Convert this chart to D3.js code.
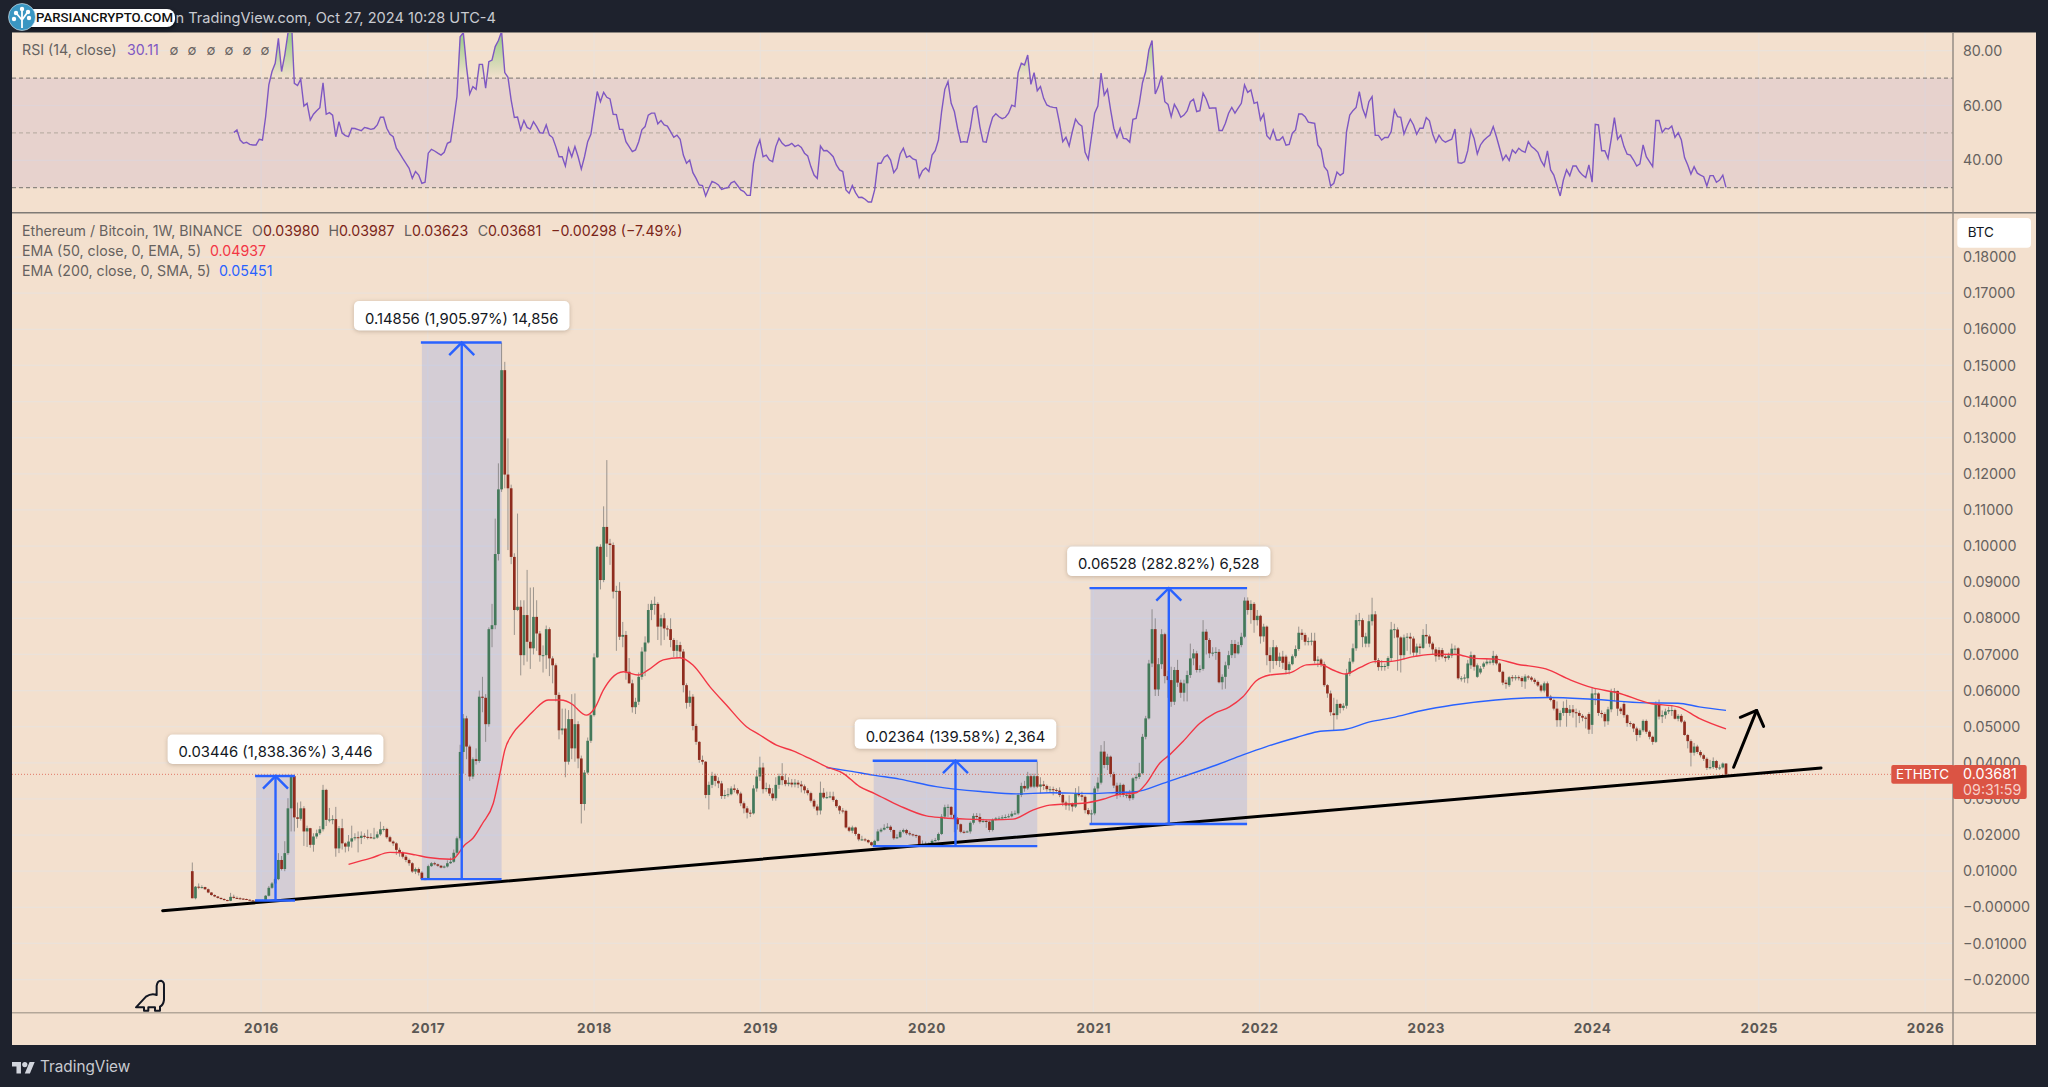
<!DOCTYPE html>
<html>
<head>
<meta charset="utf-8">
<script src="https://cdnjs.cloudflare.com/ajax/libs/d3/7.8.5/d3.min.js"></script>
<style>
  html, body { margin: 0; padding: 0; background: #1e222d; overflow: hidden; }
  svg { display: block; }
  text { font-family: Inter, "Noto Sans", sans-serif; }
</style>
</head>
<body>
<svg id="chart" width="2048" height="1087"></svg>
<script>
//1. Data, weekly candles: [open, close, high, low] in 0.001 BTC
const candles = [
  // 2015
  [10,2.5,12.4,2.5],[2.5,5.7,5.9,2.2],[5.7,5.6,6.6,5],[5.6,5.6,6.1,5.2],[5.6,5,5.7,4.8],[5,4.1,5.2,3.9],[4.1,3.4,4.2,3.2],[3.4,3,3.6,2.8],[3,2.6,3.1,2.4],[2.6,2.3,2.7,2.1],
  [2.3,2,2.5,1.9],[2,1.8,2.1,1.7],[1.8,2.9,4,1.7],[2.9,2.6,3.5,2.4],[2.6,2.5,3,2.3],[2.5,2.4,2.8,2.2],[2.4,2.3,2.5,2.1],[2.3,2.1,2.4,2],[2.1,1.9,2.2,1.8],[1.9,1.8,2,1.7],
  [1.8,1.7,1.9,1.6],[1.7,1.8,1.9,1.7],
  // 2016
  [1.8,1.9,2.1,1.8],[1.9,3.2,3.4,1.8],[3.2,5.4,5.9,3],[5.4,6.6,7,5.1],[6.6,7.8,8.3,6.3],[7.8,13.1,15,7.5],[13.1,10.6,14.2,10.2],[10.6,15,18.3,10],
  [15,27.4,30.2,14.5],[27.4,36.3,36.3,21],[36.3,24.9,36.3,21],[24.9,24.5,29,22],[24.5,27.4,29.3,24],[27.4,21,28,17],[21,21.9,22.6,16.7],[21.9,17.3,22,16.5],[17.3,19.6,20.5,15.4],[19.6,20.5,21.5,19],
  [20.5,21.6,22.5,20],[21.6,32.5,33.9,21],[32.5,24.2,32.8,22.5],[24.2,24.3,27.5,23.5],[24.3,24.4,25.5,23],[24.4,16.3,27.8,14],[16.3,21.9,22.5,15],[21.9,17.7,24.5,16],[17.7,16.8,18,15.2],[16.8,18.2,20,15.5],
  [18.2,19.1,22.6,16.5],[19.1,19.4,20.5,18.5],[19.4,19.2,21,15.2],[19.2,19.8,21,17.5],[19.8,19.5,20.5,19],[19.5,19.4,21.5,18.8],[19.4,19.3,20.5,19],[19.3,19.3,22,18.8],[19.3,20.2,21,19],[20.2,21.6,23.7,19.8],
  [21.6,21.7,22.5,21],[21.7,19.4,22,19],[19.4,18.2,19.8,18],[18.2,17.7,18.5,17],[17.7,15.9,18,14.5],[15.9,15.1,16.5,14],[15.1,14,15.5,13.5],[14,13.1,14.5,12.5],[13.1,12.2,13.5,11.5],[12.2,9.9,12.5,9.5],
  [9.9,10.6,11,9.2],[10.6,9.6,11,8.8],[9.6,7.8,10,7.8],[7.8,7.8,8.2,7.7],
  // 2017
  [7.8,11.4,11.8,7.7],[11.4,12.2,12.5,11.2],[12.2,11.9,12.6,11.6],[11.9,11.5,12.1,11.2],[11.5,11,11.7,10.8],[11,11.3,11.6,10.8],
  [11.3,12.2,13,11],[12.2,12.6,13.8,12],[12.6,15.1,16,12.3],[15.1,19.1,19.6,14.5],[19.1,43,45,18.5],[43,52.3,53.5,37],[52.3,44.5,53,41],[44.5,36.2,45,35],[36.2,41,41.5,35.5],[41,40.5,44,39.5],
  [40.5,58.3,60,40],[58.3,58,63.8,54],[58,50.7,59,45.8],[50.7,77,77.5,50],[77,78.1,84,72],[78.1,97.8,107.6,77],[97.8,115.7,122.9,96],[115.7,148.7,156.3,115],[148.7,119.8,151,116],[119.8,116,129.8,98.9],
  [116,97,117,95],[97,82.3,98,75.4],[82.3,83.2,109,82],[83.2,69.8,85,64.2],[69.8,80.9,85,67],[80.9,73.5,93.4,68],[73.5,71.7,88.5,66],[71.7,80.4,88.6,70],[80.4,75.8,85,71],[75.8,69.8,76.5,68],
  [69.8,69.8,72.5,65],[69.8,77,78,66],[77,68.9,77.5,64],[68.9,67,69.5,62],[67,58.8,67.5,57],[58.8,49,59.5,46.5],[49,49.5,55,47.8],[49.5,40.3,55,36],[40.3,52.1,54.6,39.5],[52.1,44,59,41],
  [44,50.7,59.2,40.3],[50.7,41.2,51.5,38.5],[41.2,28.6,42,23.2],[28.6,37.3,38,26.8],[37.3,46.1,47,36.8],[46.1,53.2,53.5,45.5],
  // 2018
  [53.2,69.2,70.3,52.8],[69.2,99.8,100,69],[99.8,90.6,100.5,88],[90.6,105.3,111,90],
  [105.3,100.7,123.8,97],[100.7,100.3,102,94.8],[100.3,87.4,101,85.5],[87.4,87.6,89,71],[87.6,74.9,90,74],[74.9,75.4,79,72],[75.4,65.2,76.5,63],[65.2,62,69,62],[62,55.4,63,53.9],[55.4,56.9,58,53.5],
  [56.9,63.8,65,56],[63.8,70.8,72,63],[70.8,73.3,75,64],[73.3,82.3,84,73],[82.3,84,85,79.5],[84,84,86,81],[84,77.7,84.5,74],[77.7,80,81,72.5],[80,77.2,81.5,74],[77.2,77,78,75],
  [77,74,80,72],[74,71,74.5,69.3],[71,72.6,74,69],[72.6,70.8,73.5,69],[70.8,61.5,71.5,59.5],[61.5,56.6,62,55],[56.6,58.3,60,55.5],[58.3,50.2,59,49],[50.2,45.8,50.8,45],[45.8,40.8,46,40],
  [40.8,40.3,42,39.5],[40.3,31.1,40.5,30.2],[31.1,33.9,34.8,27.1],[33.9,36.4,37.5,33],[36.4,35,37,33.5],[35,34.3,36,33],[34.3,30.8,35,30],[30.8,31.1,32.5,30],[31.1,31.3,33,30.5],[31.3,32.9,33.5,31],
  // 2019
  [32.9,32.5,34,31.8],[32.5,31.5,33,31],[31.5,28.8,32,28],[28.8,27.4,29.3,26],[27.4,26.2,28,24.6],[26.2,26,27,25],[26,32.9,33.8,25.7],[32.9,36.2,38,32],[36.2,38.7,41.7,35],[38.7,32.7,40,31.5],
  [32.7,33,34.5,32],[33,31.5,34,30.8],[31.5,30.2,33,29.5],[30.2,33.9,36,29.5],[33.9,36.3,37,32.8],[36.3,35.2,39.9,33.8],[35.2,34.1,37,33.5],[34.1,34.5,36,33.5],[34.5,34,35.5,33.2],[34,34.5,35.5,33.2],
  [34.5,34,35.2,33],[34,33.5,35,31.8],[33.5,32.4,34,31.5],[32.4,31.6,33,31],[31.6,29.5,32,29],[29.5,27.9,30,27.3],[27.9,26.8,28.5,25.5],[26.8,31.7,34.8,25.7],[31.7,30.4,33,30],[30.4,30.5,32,30],
  [30.5,30.7,32,30.2],[30.7,29.7,32,29.2],[29.7,28,30,27.5],[28,26.8,28.3,25.8],[26.8,26.7,27.5,26],[26.7,22.1,27,21.8],[22.1,21.2,22.4,20.8],[21.2,22.1,22.6,20.5],[22.1,20.3,22.3,19.8],[20.3,18.8,20.5,18.3],
  [18.8,18.8,19.8,18.4],[18.8,18.6,19.2,18.2],[18.6,18,18.8,17.7],[18,17.2,18.2,16.9],[17.2,18.4,18.7,16.8],[18.4,21,21.6,18.2],[21,21.5,22,20.7],[21.5,22,23,21.3],[22,22.3,23.3,21.8],[22.3,21.4,22.7,20.9],
  [21.4,19.1,21.5,18.7],[19.1,19.4,20.2,18.9],[19.4,20.9,21.4,19.2],[20.9,21.4,21.8,20.5],[21.4,20.5,21.7,20],[20.5,20.2,21,19.8],[20.2,20,20.4,19.6],[20,19.8,20.2,19.2],[19.8,17.3,20,17],[17.3,17.3,18.5,17],
  [17.3,17.5,18.2,17],
  // 2020
  [17.5,17.6,18,17.2],[17.6,18.4,18.8,17.4],[18.4,18.6,19.2,18.2],[18.6,20.3,20.7,18.3],[20.3,25.1,25.8,20],[25.1,27.7,28.4,24.5],[27.7,27.8,28.5,25],[27.8,25.6,28,24.6],[25.6,24.6,26,20.8],
  [24.6,23,25,21.5],[23,20.9,23.2,20.5],[20.9,20.8,21.3,20.4],[20.8,21,21.3,20.6],[21,23.4,23.8,20.4],[23.4,25.3,26,22.9],[25.3,25,26.1,24.5],[25,23.7,26,23.2],[23.7,23.9,24.5,23.4],[23.9,23.7,24.2,22],
  [23.7,21.4,24,20.8],[21.4,24.2,24.6,21],[24.2,24.6,25,24],[24.6,24.6,25.2,24.2],[24.6,24.9,25.5,24.2],[24.9,25,25.7,24.6],[25,25.2,25.9,24.8],[25.2,25.9,26.6,24.9],[25.9,26,26.8,25.6],[26,31.1,31.5,25.6],
  [31.1,33.6,34.5,30.5],[33.6,32.9,35,32],[32.9,36.3,37.5,32.5],[36.3,33.4,37,33],[33.4,36.3,37,33],[36.3,33.4,40.3,33],[33.4,34,36,31.5],[34,33.6,35,32.5],[33.6,32.7,34,32],[32.7,32.7,33.5,31.8],
  [32.7,32.5,33.4,31],[32.5,32.3,33,31.5],[32.3,31.1,33.2,30.5],[31.1,29,31.5,28],[29,28.2,29.5,27],[28.2,28.6,31,26.8],[28.6,27.9,29,26.5],[27.9,31.5,33,27.5],[31.5,31,33.5,30.5],[31,30.6,32,29.5],
  [30.6,26.9,31,26],[26.9,25.8,27.5,25.5],[25.8,26,27,23.1],
  // 2021
  [26,32.9,33.5,25.5],[32.9,34.5,36,32],[34.5,43.1,44.9,34],[43.1,39.4,46,38.5],[39.4,41.7,42.5,38],[41.7,36.9,42,36],[36.9,33.7,37.5,33],
  [33.7,31.1,34.5,30],[31.1,33.9,34.5,30.5],[33.9,31.1,34.2,30.5],[31.1,31.1,32,30.2],[31.1,30.2,32.5,29.5],[30.2,35.7,36,29.7],[35.7,36.1,37,35],[36.1,37.1,40,35.5],[37.1,47.2,48,36.8],[47.2,52.3,53,46.5],
  [52.3,67.5,68.5,52],[67.5,77,82.5,66.5],[77,60.3,80,58.5],[60.3,67.3,69,58.5],[67.3,75.6,77,66],[75.6,64,76,62],[64,62.9,65.5,58],[62.9,56.9,66.6,55.5],[56.9,65.7,66.5,56],[65.7,62.2,68.5,61],
  [62.2,59.4,63,58],[59.4,62,63,57],[62,64.3,65.5,57],[64.3,68.9,73,63.5],[68.9,70.3,71.5,67],[70.3,65.7,71,65],[65.7,66,67,65],[66,76.3,79.5,65.5],[76.3,74,77,70],[74,70.3,74.5,69],
  [70.3,70.5,72,69.5],[70.5,70.7,72,68.5],[70.7,62.3,71.5,62],[62.3,63.8,64.5,60.3],[63.8,67,68,60.5],[67,69.8,71,66],[69.8,72.9,74,69],[72.9,70.3,74,69],[70.3,72.6,73.5,70],[72.6,74.9,76,72],
  [74.9,84.9,85.8,74.5],[84.9,82.3,85.8,81],[82.3,84,85,78.5],[84,79.5,84.5,76],[79.5,80.7,82.3,78],
  // 2022
  [80.7,75,81,73],[75,77.7,78.5,73.5],[77.7,69.8,78,67],[69.8,68.2,72,65],[68.2,72,74,66],
  [72,68.2,72.5,67],[68.2,69.4,70.5,66.5],[69.4,67.7,71,66],[69.4,65.7,69.9,64.5],[65.7,67.3,68,64.5],[67.3,69.5,70,67],[69.5,71.5,72.5,69],[71.5,76,77.7,71],[76,75.4,77,74],[75.4,73.5,76,72.5],
  [73.5,73.7,74.7,72.5],[73.7,73.8,76,72.5],[73.8,68.2,76,67.5],[68.2,68.6,69.5,66.5],[68.6,67.3,69,66.5],[67.3,61.5,68,61],[61.5,59.2,61.8,58],[59.2,54,60,53],[53.7,53.2,58,49],[53.2,56.3,57.5,52],
  [56.3,55.2,56.5,53.7],[55.2,55.8,56.5,54.5],[55.8,64.7,66,55],[64.7,68,69,64],[68,71.7,73,67.5],[71.7,79.5,81,71],[79.5,79.5,81.5,78],[79.5,74.8,80,72],[73,75,76,72],[73,79.2,81,72],
  [79.2,81.1,85.7,78],[81.1,68.4,82,67.5],[68.4,66.5,69,65.5],[66.5,66.8,68.4,65.5],[66.8,66.8,67.5,65.5],
  // 2023
  [66.8,69,69.5,66],[69,76.9,79,68],[76.9,77,78.5,74.5],[76.9,74.7,77.5,65.5],[74.7,69.8,75,65],
  [69.8,74.7,75.5,68.5],[74.7,74.9,75.9,71],[74.9,74.4,76,70],[74.4,70.5,75,69.5],[70.5,72.2,73,69.5],[72.2,71.8,73,70],[71.8,75.4,77,71.5],[75.4,75,78.4,73],[75,73,75.5,72],[73,71.4,73.5,70],
  [71.4,69.5,72,68],[71.2,69.4,72,68.5],[71.2,69.4,71.8,68.9],[69.4,69,69.9,68],[69,69.7,70.5,68.5],[69.7,71.6,73,69],[71.6,71.6,72.5,70],[71.7,63.4,72,63],[63.4,63.4,64,62.5],[63.4,63.6,64.5,62.2],
  [63.4,67.5,68.5,62],[67,69.8,70.8,66],[69.8,66.6,70,65.5],[63.8,67,67.5,63.5],[65,66.1,66.8,64.5],[66.6,67.5,68,66],[67.5,68,68.8,67],[68,68,68.5,67.2],[67.7,69.6,71,67],[69.6,67.5,70,67],
  [67.5,65.2,67.8,65],[65.2,62.2,65.5,61.5],[62.2,61.8,63,60.5],[61.5,63.7,64,61],[63.7,63.4,64.3,62.5],[63.4,63.7,64.3,62.8],[63.7,63.5,64.2,62.8],[63.5,62.6,64,61],[62.5,63.9,64.5,60.5],[63.9,63.6,64.3,63],
  [63.6,63,64,62.5],[63,62.4,63.5,61.8],[62.4,61.4,62.8,61],[61.4,60,61.8,59.5],[60,62,62.5,59.5],[62,58.3,62.5,58],[58.3,57.4,58.8,57],[57.4,55,57.8,54.5],[55,51.8,57,50],[51.8,53.8,54.5,50],
  [53.8,55.2,57,53],[55.2,53.8,57.5,50],[53.8,54.8,56,53],[54.8,54,56,52.5],[54,53.8,55,49.8],[53.8,53,54.5,51],[53,52.5,53.5,51.5],[52.5,52.2,53,49.5],[53.5,49.2,54,48],
  // 2024
  [50.5,59.2,61,48],[59.2,59.2,60.5,56],[59.2,53.8,59.5,53],[53.8,53.5,54.5,52.5],[53.5,51.5,54,50],[51.5,54.8,55.5,50.5],[54.8,59.8,60.5,54],[59.8,59.9,60.7,57],[59.9,55,60,53],[55,54.3,55.5,53.5],
  [56.3,53.2,56.8,52.5],[53.2,51,53.5,50],[51,50.8,51.5,50],[50.8,49.5,51,48.5],[49.5,47.7,50,46],[47.7,49,49.5,47],[49,51.6,52,48.5],[51.6,48.6,52,48],[48.6,47.2,49,46.5],[47.2,45.8,47.5,45],
  [45.8,56,57,45.5],[56,52.8,57.5,52],[52.8,53.2,54.5,51],[53.2,54.2,55,52.2],[54.2,54.6,55.5,53.5],[54.6,54.6,56,53],[54.6,52.2,55,52],[52.2,53,53.5,51.5],[53,51.4,53.5,51],[51.4,47.7,51.8,47.5],
  [47.7,46,48,44],[46,42.8,46.5,39],[42.8,44.5,45.5,42],[44.5,43,45,42.5],[43,42.1,43.5,41.5],[42.1,41.1,42.5,40.5],[41.1,38.6,41.5,38],[38.6,38.8,40.8,38.2],[38.8,40.5,41.5,38.3],[40.5,38.6,40.8,38],
  [38.6,38.7,39.5,38],[38.7,39.8,40.1,38.4],[39.8,36.81,39.87,36.23],
];

// RSI (14), one value a week, last value belongs to the last candle
const rsi = [
  50.1,51.1,47.4,46.2,46.6,45.8,45.6,45.6,47.7,47.4,55.9,67.5,72.4,75.4,84.5,72.4,78.4,86.4,93.6,68.1,67.3,
  69.6,59.8,60.8,54.7,56.8,58.1,59.2,68.3,56.8,57.4,56.5,48.6,54.1,49.9,49,48.6,51.7,51.6,51.2,50.8,52,
  51.7,51.3,51.6,52.9,55.7,55.7,51.7,49.5,48.6,44.4,42.6,40.7,38.9,37.1,33.4,35.9,34.6,31.6,32,42.6,
  44,43.4,42.6,41.9,42.9,46.2,46.8,54.7,63.2,85.1,86.6,74.2,64.2,66.9,65.9,75,75,66.3,76,76.6,
  81.5,83.7,87,72,70.3,62,55.6,55.8,51.1,54.5,52,51.4,54.1,52.3,50.1,49.9,52.9,49.2,48.3,45,
  41.3,41.3,37.9,44.4,41.3,45,41.3,36.8,41.3,46.8,49.5,57.2,65.1,61.4,64.8,63,62.4,56.8,56.7,51.3,
  51.3,46.8,45,43.2,43.8,46.8,51.1,52.3,56.5,57.2,57.2,53.3,54.5,52.9,52.5,50.5,48.4,49.2,47.7,41.9,
  38.9,40.1,35.5,33.4,31,30.8,27,29.8,32.3,31.8,31,29.4,29.8,30,31.8,32.3,30.8,29.2,28.6,27.2,
  27.2,38.9,44.4,47.4,41.3,41.9,40.1,39.5,45,48,46.2,45.2,45.5,46.2,45,45.6,44.7,
  42.6,41.6,37.7,34.6,33.4,45.2,43.5,43.6,42.6,41.3,38.3,36.5,35.9,29.2,28,30.8,28.2,26.4,26.5,25.8,
  24.8,24.8,29.2,38.9,38.9,41.1,41.9,40.1,35.5,37.1,42.3,44.4,41.1,41.6,40.5,40.1,33.7,36.2,37.2,35.9,
  41.9,43.5,47.4,57.8,65.9,68.7,60.8,57.8,51.7,46.6,46.8,46.6,51.7,59,59.8,52.3,46.8,46.6,51.7,55.7,
  57,55.9,55.2,55.7,57.2,60.1,59.6,72,75.4,74.8,78.4,67.7,72,65.4,66.9,62.6,60.2,59.6,59.3,59.2,
  53.5,46.8,48.4,45.2,50.5,55,53.3,52.5,42.9,40.4,48.6,57.2,59.8,71.8,63.8,65.9,58.4,51.7,48.4,51.7,
  48,47.8,46.6,55,55.3,60.8,68.3,72.4,80.3,83.7,64.2,66.9,70.9,61.4,60.4,55.9,60.4,58.4,55.7,56.5,
  58,61.4,62.3,57.8,58.1,64.5,62.3,59,59.1,59.1,50.9,50.9,53.5,57.2,59.3,57.2,59,60.8,67.5,64.8,
  65.7,60.8,61.2,54.7,56.9,49,47.7,51.1,47.4,47.4,48.6,45.5,45.8,49.9,51.1,56.9,56.9,55.9,53.9,53.7,
  53.5,45.6,44,37.7,36.2,30.6,31.6,35.7,34.5,35.3,50.5,56.5,58.1,59.3,65.1,59,55.9,61.4,63.2,49.1,
  49.1,47.4,48.3,48.3,50.5,58.4,55.9,55.7,
  49.6,52.5,55,52.9,49.5,51.7,51.7,55.6,54.4,49.6,46.6,49.2,47.4,46.6,47.2,47.7,51.4,39.1,38.9,39.5,
  43.5,51.1,48,42.3,45.6,47.2,48.3,49.2,52.3,48.6,44.4,40.1,41.9,39.9,43.8,42.6,44.4,43.4,42.9,46.8,
  45,44.1,42.9,39.9,37.9,43.4,36.5,34.6,30.8,27,32.8,36.5,34.4,37.9,37.9,35.9,34.6,33.7,38.3,32,
  53.1,52.9,43.5,43.5,40.7,47.7,55.6,47.7,49.2,45,42.2,41.9,40.1,37.9,38.7,45.6,41.3,39.5,37.7,54.5,
  54.5,50.2,51.7,51.4,52.5,48.4,50.1,47.4,41,38.3,35,37.7,35.3,34.6,34,30.6,34.4,34.4,32,32.8,
  34.6,30.11,
];

// Moving averages: [week, value in 0.001 BTC]
const ema50 = [[49,11.9],[56,13.6],[62,15.2],[66,15.1],[70,14.5],[74,13.8],[81,13.3],[82,13.5],[85.5,17.3],[88,19.1],[91,23.2],[94.4,28.8],[96.5,37.1],[98,43.5],[100.6,48.2],[103.8,51.4],[106.9,54.3],[111.6,57.4],[115.3,57.4],[119.5,56],[120.5,55.1],[123.6,53.2],[126.2,55.1],[128.9,60.1],[131.5,63.4],[135.2,65.2],[139.8,64.3],[143,65.7],[147.7,68.5],[152.9,69.1],[157,67.1],[162.3,61.1],[167.5,56],[173.8,50],[178,47.7],[183.2,44.9],[188.4,43.3],[193.6,41.2],[198.9,38.9],[204.1,37.1],[209.3,33.4],[214,31.5],[221.8,28.1],[230.2,25.3],[235.4,24.8],[242.8,24.4],[251,24.2],[257.4,24.4],[263.6,26.9],[268.9,28.3],[274.1,28.6],[279.3,28.8],[285.6,29.9],[289.8,31.1],[296,31.7],[299.2,34.3],[303.4,39.9],[306.5,42.2],[310.7,45.9],[315.9,50.9],[320.6,53.7],[325.3,55.5],[329.5,58.3],[333.7,62.7],[337.9,64.3],[344.2,64.9],[349.4,67.1],[353.5,67.3],[357.7,65.7],[361.6,64.6],[366.3,66.4],[370.8,68],[375.2,68],[383.1,69.4],[389.8,70.1],[396.5,70],[402.1,68.9],[408.8,68.7],[415.5,67.3],[424.5,66],[432.3,62.9],[439,60.8],[446.9,59.4],[457,56.5],[465.9,55.5],[472.6,52.3],[481,49.37]];
const ema200 = [[198.9,38.7],[206.2,37.7],[213.5,36.6],[221.8,35.5],[233.3,33.4],[247.9,32],[258.4,31.4],[268.9,31.7],[282.4,31.5],[289.8,31.8],[296,32],[304.4,34.3],[310.7,36.2],[321.2,39.4],[329.5,42.2],[336.9,44.5],[346.3,47],[352.9,48.6],[361.8,49.3],[369.6,51.4],[376.4,52.5],[385.3,54.4],[395.4,56],[408.8,57.4],[425.6,58.1],[439,57.6],[455.8,56.6],[465.9,56.5],[472.6,55.5],[481,54.51]];

// Price ranges drawn on the chart
const ranges = [
  { w0: 20, w1: 32.2, from: 0.00187, to: 0.03633, label: "0.03446 (1,838.36%) 3,446" },
  { w0: 72, w1: 97, from: 0.00779, to: 0.15635, label: "0.14856 (1,905.97%) 14,856" },
  { w0: 213.7, w1: 265, from: 0.01694, to: 0.04058, label: "0.02364 (139.58%) 2,364" },
  { w0: 281.7, w1: 330.8, from: 0.02308, to: 0.08836, label: "0.06528 (282.82%) 6,528" },
];
const trendLine = [[-9.3, -0.00094], [510.8, 0.03857]];
const upArrow = { shaft: [[483.4, 0.03876], [490.6, 0.0545]], head: [[485.5, 0.0526], [490.6, 0.0545], [492.8, 0.0501]] };
const lastPrice = 0.03681;

//2. Layout and scales
const pane = { left: 12, right: 1953, edge: 2036, top: 32, rsiBottom: 212.7, bottom: 1012.7, foot: 1045 };
const t0 = new Date(2015, 7, 3);
const weekDate = (w) => new Date(+t0 + w * 7 * 864e5);
const x = d3.scaleTime().domain([t0, weekDate(481)]).range([192.3, 1726]);
const xw = (w) => x(weekDate(w));
const y = d3.scaleLinear().domain([0, 0.18]).range([907.3, 257.1]);
const yRsi = d3.scaleLinear().domain([40, 80]).range([160.3, 50.7]);

const svg = d3.select("#chart");
const COL = { bg: "#f3e0ce", grid: "#ebe2da", text: "#66625f", up: "#44795a", down: "#8f2c1e", blue: "#2962ff", red: "#f23645", purple: "#7e57c2", price: "#db5444" };

const defs = svg.append("defs");
defs.append("clipPath").attr("id", "clipRsi").append("rect")
  .attr("x", pane.left).attr("y", pane.top).attr("width", pane.right - pane.left).attr("height", pane.rsiBottom - pane.top);
defs.append("clipPath").attr("id", "clipMain").append("rect")
  .attr("x", pane.left).attr("y", pane.rsiBottom).attr("width", pane.right - pane.left).attr("height", pane.bottom - pane.rsiBottom);
const grad = defs.append("linearGradient").attr("id", "obFill").attr("gradientUnits", "userSpaceOnUse")
  .attr("x1", 0).attr("x2", 0).attr("y1", yRsi(84)).attr("y2", yRsi(70));
grad.append("stop").attr("offset", 0).attr("stop-color", "#a3cf8e");
grad.append("stop").attr("offset", 1).attr("stop-color", "#a3cf8e").attr("stop-opacity", 0);

svg.append("rect").attr("x", pane.left).attr("y", pane.top).attr("width", pane.edge - pane.left).attr("height", pane.foot - pane.top).attr("fill", COL.bg);

//3. Grid
const yearTicks = d3.timeYear.range(new Date(2016, 0, 1), new Date(2026, 0, 2));
const mainTicks = d3.range(-2, 19).map((d) => d / 100);
const rsiTicks = [40, 60, 80];
const gridG = svg.append("g").attr("stroke", COL.grid).attr("stroke-width", 1.2);
gridG.selectAll("line.v").data(yearTicks).join("line").attr("class", "v")
  .attr("x1", (d) => x(d)).attr("x2", (d) => x(d)).attr("y1", pane.top).attr("y2", pane.bottom);
gridG.selectAll("line.h").data(mainTicks).join("line").attr("class", "h")
  .attr("x1", pane.left).attr("x2", pane.right).attr("y1", (d) => y(d)).attr("y2", (d) => y(d));
gridG.selectAll("line.r").data(rsiTicks).join("line").attr("class", "r")
  .attr("x1", pane.left).attr("x2", pane.right).attr("y1", (d) => yRsi(d)).attr("y2", (d) => yRsi(d));

//4. RSI pane
const rsiG = svg.append("g").attr("clip-path", "url(#clipRsi)");
const rsiData = rsi.map((v, i) => ({ w: candles.length - rsi.length + i, v }));
rsiG.append("rect").attr("x", pane.left).attr("width", pane.right - pane.left)
  .attr("y", yRsi(70)).attr("height", yRsi(30) - yRsi(70)).attr("fill", COL.purple).attr("fill-opacity", 0.1);
rsiG.append("path").datum(rsiData).attr("fill", "url(#obFill)")
  .attr("d", d3.area().x((d) => xw(d.w)).y0(yRsi(70)).y1((d) => yRsi(Math.max(d.v, 70))));
rsiG.selectAll("line.lev").data([70, 50, 30]).join("line").attr("class", "lev")
  .attr("x1", pane.left).attr("x2", pane.right).attr("y1", (d) => yRsi(d)).attr("y2", (d) => yRsi(d))
  .attr("stroke", (d) => (d === 50 ? "#bdb0a6" : "#8d8780")).attr("stroke-width", 1.2).attr("stroke-dasharray", "4 3");
rsiG.append("path").datum(rsiData).attr("fill", "none").attr("stroke", COL.purple).attr("stroke-width", 1.4)
  .attr("d", d3.line().x((d) => xw(d.w)).y((d) => yRsi(d.v)));

//5. Main pane: shaded ranges, candles, averages
const mainG = svg.append("g").attr("clip-path", "url(#clipMain)");
mainG.selectAll("rect.range").data(ranges).join("rect").attr("class", "range")
  .attr("x", (d) => xw(d.w0)).attr("width", (d) => xw(d.w1) - xw(d.w0))
  .attr("y", (d) => y(d.to)).attr("height", (d) => y(d.from) - y(d.to))
  .attr("fill", COL.blue).attr("fill-opacity", 0.15);

const candleData = candles.map((d, i) => ({ w: i, o: d[0] / 1000, c: d[1] / 1000, h: d[2] / 1000, l: d[3] / 1000 }));
const candleG = mainG.selectAll("g.candle").data(candleData).join("g").attr("class", "candle");
candleG.append("line")
  .attr("x1", (d) => xw(d.w)).attr("x2", (d) => xw(d.w)).attr("y1", (d) => y(d.h)).attr("y2", (d) => y(d.l))
  .attr("stroke", "#6c6a68").attr("stroke-opacity", 0.65).attr("stroke-width", 1);
candleG.append("rect")
  .attr("x", (d) => xw(d.w) - 1.35).attr("width", 2.7)
  .attr("y", (d) => y(Math.max(d.o, d.c))).attr("height", (d) => Math.max(1, Math.abs(y(d.o) - y(d.c))))
  .attr("fill", (d) => (d.c >= d.o ? COL.up : COL.down));

const avgLine = d3.line().x((d) => xw(d[0])).y((d) => y(d[1] / 1000)).curve(d3.curveMonotoneX);
mainG.append("path").attr("d", avgLine(ema200)).attr("fill", "none").attr("stroke", COL.blue).attr("stroke-width", 1.4);
mainG.append("path").attr("d", avgLine(ema50)).attr("fill", "none").attr("stroke", COL.red).attr("stroke-width", 1.4);

// Last price, dotted
mainG.append("line").attr("x1", pane.left).attr("x2", pane.right).attr("y1", y(lastPrice)).attr("y2", y(lastPrice))
  .attr("stroke", COL.price).attr("stroke-opacity", 0.75).attr("stroke-width", 1).attr("stroke-dasharray", "1 2");

// Trend line under the range strokes
const dataLine = d3.line().x((d) => xw(d[0])).y((d) => y(d[1]));
mainG.append("path").attr("d", dataLine(trendLine)).attr("stroke", "#000").attr("stroke-width", 3).attr("stroke-linecap", "round").attr("fill", "none");

ranges.forEach((r) => {
  const mid = (xw(r.w0) + xw(r.w1)) / 2;
  const g = mainG.append("g").attr("stroke", COL.blue).attr("stroke-width", 2.4).attr("fill", "none");
  g.append("line").attr("x1", xw(r.w0) - 1).attr("x2", xw(r.w1)).attr("y1", y(r.to)).attr("y2", y(r.to));
  g.append("line").attr("x1", xw(r.w0) - 1).attr("x2", xw(r.w1)).attr("y1", y(r.from)).attr("y2", y(r.from));
  g.append("line").attr("x1", mid).attr("x2", mid).attr("y1", y(r.from)).attr("y2", y(r.to));
  g.append("path").attr("d", `M${mid - 12.5},${y(r.to) + 12.5}L${mid},${y(r.to)}L${mid + 12.5},${y(r.to) + 12.5}`);
});

mainG.append("path").attr("d", dataLine(upArrow.shaft)).attr("stroke", "#000").attr("stroke-width", 3).attr("stroke-linecap", "round").attr("fill", "none");
mainG.append("path").attr("d", dataLine(upArrow.head)).attr("stroke", "#000").attr("stroke-width", 3).attr("stroke-linecap", "round").attr("stroke-linejoin", "round").attr("fill", "none");

// Range labels
ranges.forEach((r) => {
  const mid = (xw(r.w0) + xw(r.w1)) / 2;
  const g = svg.append("g");
  const box = g.append("rect").attr("rx", 5).attr("fill", "#fff").style("filter", "drop-shadow(0 1px 2px rgba(90,70,50,.3))");
  const t = g.append("text").attr("x", mid).attr("y", y(r.to) - 23).attr("text-anchor", "middle")
    .attr("dominant-baseline", "middle").attr("font-size", 14.8).attr("fill", "#131722").text(r.label);
  const w = t.node().getComputedTextLength() + 22;
  box.attr("x", mid - w / 2).attr("width", w).attr("y", y(r.to) - 41.5).attr("height", 29.5);
});

//6. Axes
const yAxis = d3.axisRight(y).tickValues(mainTicks).tickSize(0).tickPadding(10)
  .tickFormat((d) => (d <= 0 ? "\u2212" : "") + Math.abs(d).toFixed(5));
const yAxisG = svg.append("g").attr("transform", `translate(${pane.right},0)`).call(yAxis);
const rsiAxisG = svg.append("g").attr("transform", `translate(${pane.right},0)`)
  .call(d3.axisRight(yRsi).tickValues(rsiTicks).tickSize(0).tickPadding(10).tickFormat(d3.format(".2f")));
const xAxisG = svg.append("g").attr("transform", `translate(0,${pane.bottom})`)
  .call(d3.axisBottom(x).tickValues(yearTicks).tickSize(0).tickPadding(11).tickFormat(d3.timeFormat("%Y")));
[yAxisG, rsiAxisG, xAxisG].forEach((g) => {
  g.select(".domain").remove();
  g.selectAll("text").attr("fill", COL.text).attr("font-size", 14.3).style("font-family", "Inter, sans-serif");
});
xAxisG.selectAll("text").attr("font-size", 13.5).attr("font-weight", 700).attr("fill", "#5a5754").style("letter-spacing", "0.7px");

// Pane borders
const borderG = svg.append("g");
borderG.append("line").attr("x1", pane.left).attr("x2", pane.edge).attr("y1", pane.top + 0.5).attr("y2", pane.top + 0.5).attr("stroke", "#8d8780");
borderG.append("line").attr("x1", pane.left).attr("x2", pane.edge).attr("y1", pane.rsiBottom).attr("y2", pane.rsiBottom).attr("stroke", "#7f7a75").attr("stroke-width", 1.6);
borderG.append("line").attr("x1", pane.left).attr("x2", pane.edge).attr("y1", pane.bottom).attr("y2", pane.bottom).attr("stroke", "#b3a799").attr("stroke-width", 1.6);
borderG.append("line").attr("x1", pane.right).attr("x2", pane.right).attr("y1", pane.top).attr("y2", pane.foot).attr("stroke", "#8d8780").attr("stroke-width", 1.4);

// Scale and price tags
svg.append("rect").attr("x", 1957.3).attr("y", 218).attr("width", 73.7).attr("height", 29.7).attr("rx", 4).attr("fill", "#fff");
svg.append("text").attr("x", 1967.7).attr("y", 233).attr("dominant-baseline", "middle").attr("font-size", 13.5).attr("fill", "#131722").text("BTC");
const py = y(lastPrice);
svg.append("rect").attr("x", 1891.3).attr("y", py - 9.3).attr("width", 63).attr("height", 18.6).attr("rx", 2).attr("fill", COL.price);
svg.append("rect").attr("x", pane.right).attr("y", py - 9.3).attr("width", 73.7).attr("height", 34).attr("rx", 2).attr("fill", COL.price);
svg.append("text").attr("x", 1896).attr("y", py + 0.5).attr("dominant-baseline", "middle").attr("font-size", 13.5).attr("fill", "#fff").text("ETHBTC");
svg.append("text").attr("x", 1963).attr("y", py + 0.5).attr("dominant-baseline", "middle").attr("font-size", 14.3).attr("fill", "#fff").text(lastPrice.toFixed(5));
svg.append("text").attr("x", 1963).attr("y", py + 16.5).attr("dominant-baseline", "middle").attr("font-size", 14.3).attr("fill", "#f7cfc8").text("09:31:59");

//7. Legends
const legend = (xPos, yPos, str, fill) => svg.append("text").attr("x", xPos).attr("y", yPos)
  .attr("dominant-baseline", "middle").attr("font-size", 14.2).attr("fill", fill).text(str);
const legendGrey = "#66625f", legendDark = "#7a2418";
legend(22, 51, "RSI (14, close)", legendGrey);
legend(127, 51, "30.11", COL.purple);
[174, 192, 211, 229, 247, 265].forEach((xPos) => legend(xPos, 51, "\u2205", legendGrey).attr("text-anchor", "middle").attr("font-size", 13));
legend(22, 232.5, "Ethereum / Bitcoin, 1W, BINANCE", legendGrey);
[[252, "O", 263, "0.03980"], [328.6, "H", 339, "0.03987"], [404, "L", 412, "0.03623"], [477.7, "C", 488, "0.03681"]].forEach((d) => {
  legend(d[0], 232.5, d[1], legendGrey);
  legend(d[2], 232.5, d[3], legendDark);
});
legend(551, 232.5, "\u22120.00298 (\u22127.49%)", legendDark);
legend(22, 252.5, "EMA (50, close, 0, EMA, 5)", legendGrey);
legend(210, 252.5, "0.04937", COL.red);
legend(22, 272.5, "EMA (200, close, 0, SMA, 5)", legendGrey);
legend(219, 272.5, "0.05451", COL.blue);

//8. Frame texts and logos
svg.append("text").attr("x", 496).attr("y", 19).attr("text-anchor", "end").attr("dominant-baseline", "middle")
  .attr("font-size", 14.6).attr("fill", "#c9cbd1").text("on TradingView.com, Oct 27, 2024 10:28 UTC-4");
svg.append("rect").attr("x", 20).attr("y", 9).attr("width", 155).attr("height", 18).attr("rx", 8).attr("fill", "#fff")
  .style("filter", "drop-shadow(0 2px 2px rgba(0,0,0,.6))");
svg.append("text").attr("x", 36).attr("y", 18.5).attr("dominant-baseline", "middle").attr("font-size", 13)
  .attr("textLength", 137).attr("lengthAdjust", "spacingAndGlyphs").attr("fill", "#111").style("font-family", "Roboto, sans-serif").attr("font-weight", 500).text("PARSIANCRYPTO.COM");
const badge = svg.append("g").attr("transform", "translate(22,17)");
badge.append("circle").attr("r", 13.5).attr("fill", "#3a96c2").attr("stroke", "#e8eef2").attr("stroke-width", 0.6);
badge.append("path").attr("d", "M0,11V3M0,3L-5,-3M0,3L5,-4M0,3V-6").attr("stroke", "#fff").attr("stroke-width", 1.8).attr("fill", "none");
[[-6, -4], [6, -5], [0, -8], [-8, 2], [7, 1]].forEach((p) => badge.append("circle").attr("cx", p[0]).attr("cy", p[1]).attr("r", 2.2).attr("fill", "#fff"));

// TradingView footer
svg.append("path").attr("transform", "translate(12,1059.5) scale(0.64)")
  .attr("fill", "#d1d4dc").attr("d", "M14 22H7V11H0V4h14v18zM28 22h-8l7.5-18h8L28 22z");
svg.append("circle").attr("cx", 24.8).attr("cy", 1064.6).attr("r", 2.6).attr("fill", "#d1d4dc");
svg.append("text").attr("x", 40).attr("y", 1067.5).attr("dominant-baseline", "middle").attr("font-size", 15.3).attr("fill", "#c9cbd1").text("TradingView");

// Dino in the corner of the pane
svg.append("path").attr("transform", "translate(0,960) scale(0.3333)")
  .attr("fill", "none").attr("stroke", "#131722").attr("stroke-width", 6).attr("stroke-linejoin", "round")
  .attr("d", "M408,142L438,110Q455,98 470,105L470,78Q472,62 483,62Q494,65 492,80L492,120Q490,135 480,140L480,152L465,152L465,142L445,142L445,152L432,152L432,142Z");
</script>
</body>
</html>
